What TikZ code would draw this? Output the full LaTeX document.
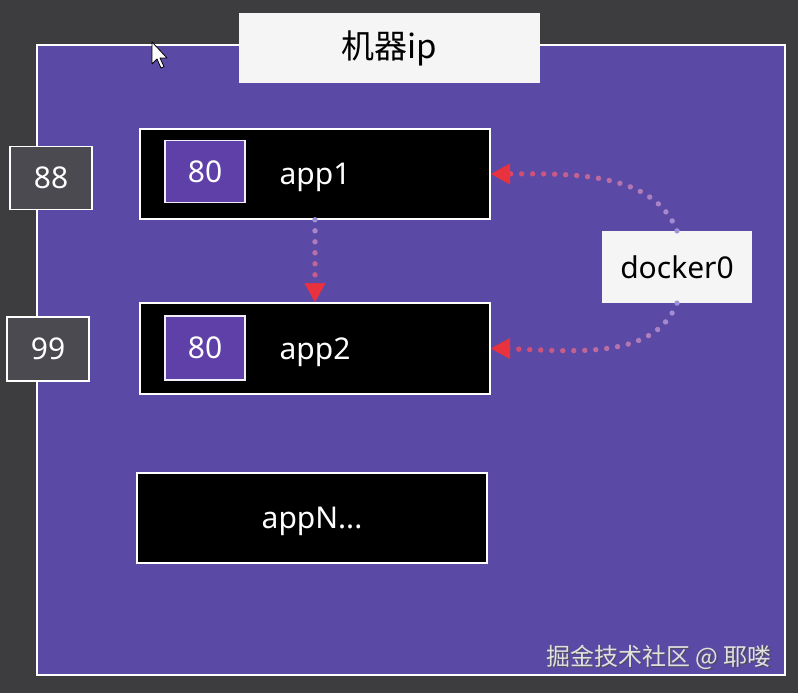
\documentclass[tikz,border=0pt]{standalone}
\usepackage{fontspec}
\setmainfont{Noto Sans}
\newfontfamily\cjk{Noto Sans CJK SC}
\usetikzlibrary{decorations.markings,arrows.meta,calc}
\definecolor{bgdark}{HTML}{3D3D3F}
\definecolor{machinepurple}{HTML}{5A4AA5}
\definecolor{portpurple}{HTML}{5E40A8}
\definecolor{hostgray}{HTML}{4B4A50}
\definecolor{lav}{HTML}{A090D8}
\definecolor{arrred}{HTML}{E8323E}
\definecolor{dotred}{HTML}{DC4060}
\pgfdeclarelayer{background}
\pgfdeclarelayer{glow}
\pgfsetlayers{background,glow,main}
\tikzset{
  txt/.style={font=\fontsize{30}{36}\selectfont},
  appbox/.style={draw=white, line width=1.6pt, fill=black, text=white, inner sep=0pt, text depth=0pt, txt},
  portbox/.style={draw=white!85!lav, line width=1.4pt, fill=portpurple, text=white, inner sep=0pt, minimum width=80pt, minimum height=62pt, txt},
  hostbox/.style={draw=white, line width=1.6pt, fill=hostgray, text=white, inner sep=0pt, minimum width=82pt, minimum height=63pt, txt},
  whitebox/.style={fill=white!96!black, text=black, inner sep=0pt},
  gdots/.style={postaction={decorate, decoration={markings,
      mark=between positions 0 and 1 step 11pt with {%
        \pgfmathsetmacro\frc{\pgfkeysvalueof{/pgf/decoration/mark info/distance from start}/\pgfdecoratedpathlength}%
        \pgfmathtruncatemacro\pct{100*\frc}%
        \fill[dotred!\pct!lav] (0,0) circle (2.7pt);}}}},
  gtip/.style={postaction={decorate, decoration={markings,
      mark=at position 0.999 with {\arrow[arrred]{Triangle[length=19pt,width=21pt]}}}}}
}
\begin{document}
\begin{tikzpicture}[x=1pt,y=-1pt]
\useasboundingbox (0,0) rectangle (798,693);
\begin{pgfonlayer}{background}
  \fill[bgdark] (0,0) rectangle (798,693);
\end{pgfonlayer}
\node[draw=white, line width=1.8pt, fill=machinepurple, minimum width=748pt, minimum height=630pt, inner sep=0pt] (machine) at (411,360) {};

% apps
\node[appbox, minimum width=350pt, minimum height=90pt] (app1) at (315,174) {app1};
\node[appbox, minimum width=350pt, minimum height=91pt] (app2) at (315,348.5) {app2};
\node[appbox, minimum width=350pt, minimum height=90pt] (appN) at (312,518) {appN...};
\node[portbox] (p1) at (205,171.5) {80};
\node[portbox, minimum height=64pt] (p2) at (205,348) {80};

% host ports
\node[hostbox] (h88) at (51,178) {88};
\node[hostbox, minimum height=64pt] (h99) at (48,349) {99};

% white boxes
\node[whitebox, minimum width=301pt, minimum height=70pt, font=\cjk\fontsize{33}{40}\selectfont] (ip) at (389.5,48) {机器ip};
\node[whitebox, minimum width=150pt, minimum height=72pt, txt] (docker) at (677,267) {docker0};

\begin{pgfonlayer}{glow}
  \foreach \d/\o in {14/0.05,10/0.07,6/0.1,3/0.14}{
    \fill[white,opacity=\o] ($(ip.west|-machine.north)+(-\d,1)$) rectangle ($(ip.south east)+(\d,\d)$);
    \fill[white,opacity=\o] ($(docker.north west)+(-\d,-0.5*\d)$) rectangle ($(docker.south east)+(\d,\d)$);
  }
  \foreach \n in {app1,app2,appN}{
    \foreach \d/\o in {10/0.06,7/0.08,4/0.12}{
      \fill[black,opacity=\o] ($(\n.north west)+(6-\d,8-\d)$) rectangle ($(\n.south east)+(2+\d,6+\d)$);
    }
  }
\end{pgfonlayer}

% connectors
\path[gdots, gtip] (docker.north) to[out=112, in=0, looseness=0.9] (app1.east);
\path[gdots, gtip] (docker.south) to[out=-112, in=0, looseness=0.9] (app2.east);
\path[gdots, gtip] (app1.south) -- (app2.north);

% watermark
\node[text=black!70, opacity=0.8, font=\cjk\fontsize{24}{28}\selectfont] at (660.5,658.5) {掘金技术社区 @ 耶喽};
\node[text=white!88!black, font=\cjk\fontsize{24}{28}\selectfont] (wm) at (659,657) {掘金技术社区 @ 耶喽};

% mouse cursor
\coordinate (cur) at (152,42);
\filldraw[fill=white, draw=black, line width=0.8pt, line join=round]
  (cur) -- ++(0,22) -- ++(5,-5) -- ++(4,9) -- ++(3,-1.3) -- ++(-4,-8.7) -- ++(7,0) -- cycle;
\end{tikzpicture}
\end{document}
